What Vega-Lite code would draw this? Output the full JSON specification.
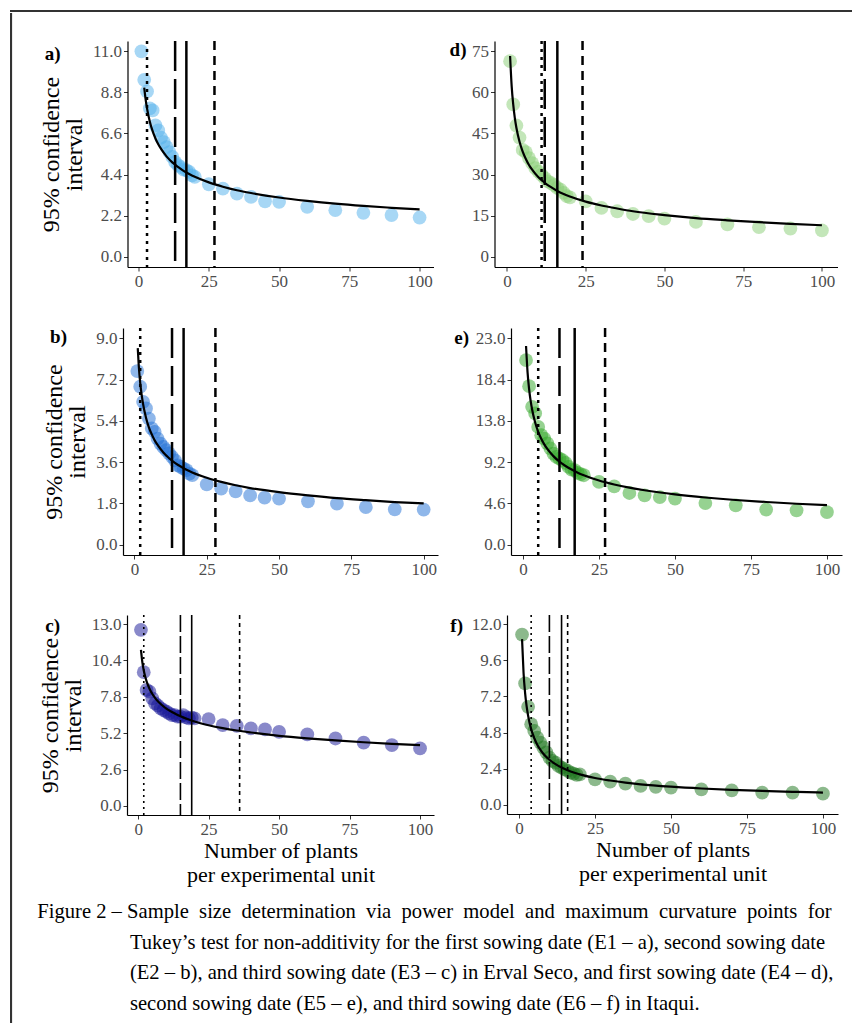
{
 "$schema": "https://vega.github.io/schema/vega-lite/v6.json",
 "padding": {"left": 10, "top": 10, "right": 0, "bottom": 0},
 "background": "white",
 "datasets": {
  "blank": [{}],
  "pa": [{"x":1,"y":11.0},{"x":2,"y":9.47},{"x":3,"y":8.85},{"x":4,"y":7.94},{"x":5,"y":7.83},{"x":6,"y":7.03},{"x":7,"y":6.76},{"x":8,"y":6.37},{"x":9,"y":6.14},{"x":10,"y":5.87},{"x":11,"y":5.6},{"x":12,"y":5.34},{"x":13,"y":5.07},{"x":14,"y":4.9},{"x":15,"y":4.8},{"x":16,"y":4.67},{"x":17,"y":4.63},{"x":18,"y":4.54},{"x":19,"y":4.36},{"x":20,"y":4.27},{"x":25,"y":3.88},{"x":30,"y":3.65},{"x":35,"y":3.38},{"x":40,"y":3.2},{"x":45,"y":2.97},{"x":50,"y":2.94},{"x":60,"y":2.67},{"x":70,"y":2.49},{"x":80,"y":2.35},{"x":90,"y":2.23},{"x":100,"y":2.1}],
  "ca": [{"x":2,"y":9.06},{"x":2.5,"y":8.43},{"x":3,"y":7.94},{"x":4,"y":7.23},{"x":5,"y":6.72},{"x":6,"y":6.33},{"x":7,"y":6.02},{"x":8,"y":5.77},{"x":10,"y":5.36},{"x":12,"y":5.05},{"x":14,"y":4.81},{"x":16,"y":4.6},{"x":18,"y":4.43},{"x":20,"y":4.28},{"x":25,"y":3.98},{"x":30,"y":3.75},{"x":35,"y":3.56},{"x":40,"y":3.41},{"x":50,"y":3.17},{"x":60,"y":2.99},{"x":70,"y":2.84},{"x":80,"y":2.72},{"x":90,"y":2.62},{"x":100,"y":2.53}],
  "va": [{"x":3,"kind":"dotted"},{"x":13,"kind":"longdash"},{"x":17,"kind":"solid"},{"x":27,"kind":"dashed"}],
  "pb": [{"x":1,"y":7.57},{"x":2,"y":6.89},{"x":3,"y":6.23},{"x":4,"y":5.94},{"x":5,"y":5.5},{"x":6,"y":5.07},{"x":7,"y":4.92},{"x":8,"y":4.63},{"x":9,"y":4.41},{"x":10,"y":4.26},{"x":11,"y":4.12},{"x":12,"y":3.98},{"x":13,"y":3.83},{"x":14,"y":3.68},{"x":15,"y":3.46},{"x":16,"y":3.39},{"x":17,"y":3.32},{"x":18,"y":3.25},{"x":19,"y":3.1},{"x":20,"y":3.03},{"x":25,"y":2.63},{"x":30,"y":2.45},{"x":35,"y":2.33},{"x":40,"y":2.15},{"x":45,"y":2.05},{"x":50,"y":2.01},{"x":60,"y":1.89},{"x":70,"y":1.79},{"x":80,"y":1.64},{"x":90,"y":1.54},{"x":100,"y":1.53}],
  "cb": [{"x":1.15,"y":8.57},{"x":1.5,"y":7.81},{"x":2,"y":7.06},{"x":2.5,"y":6.53},{"x":3,"y":6.13},{"x":4,"y":5.54},{"x":5,"y":5.12},{"x":6,"y":4.81},{"x":7,"y":4.55},{"x":8,"y":4.35},{"x":10,"y":4.02},{"x":12,"y":3.77},{"x":14,"y":3.57},{"x":16,"y":3.41},{"x":18,"y":3.27},{"x":20,"y":3.15},{"x":25,"y":2.92},{"x":30,"y":2.74},{"x":35,"y":2.59},{"x":40,"y":2.47},{"x":50,"y":2.29},{"x":60,"y":2.15},{"x":70,"y":2.03},{"x":80,"y":1.94},{"x":90,"y":1.86},{"x":100,"y":1.8}],
  "vb": [{"x":2,"kind":"dotted"},{"x":13,"kind":"longdash"},{"x":17,"kind":"solid"},{"x":28,"kind":"dashed"}],
  "pc": [{"x":1,"y":12.59},{"x":2,"y":9.56},{"x":3,"y":8.29},{"x":4,"y":8.17},{"x":5,"y":7.69},{"x":6,"y":7.33},{"x":7,"y":7.17},{"x":8,"y":6.97},{"x":9,"y":6.85},{"x":10,"y":6.74},{"x":11,"y":6.62},{"x":12,"y":6.49},{"x":13,"y":6.49},{"x":14,"y":6.38},{"x":15,"y":6.38},{"x":16,"y":6.49},{"x":17,"y":6.33},{"x":18,"y":6.26},{"x":19,"y":6.31},{"x":20,"y":6.26},{"x":25,"y":6.21},{"x":30,"y":5.78},{"x":35,"y":5.73},{"x":40,"y":5.54},{"x":45,"y":5.47},{"x":50,"y":5.3},{"x":60,"y":5.11},{"x":70,"y":4.82},{"x":80,"y":4.52},{"x":90,"y":4.34},{"x":100,"y":4.11}],
  "cc": [{"x":1,"y":11.15},{"x":1.5,"y":10.26},{"x":2,"y":9.68},{"x":2.5,"y":9.25},{"x":3,"y":8.91},{"x":4,"y":8.4},{"x":5,"y":8.02},{"x":6,"y":7.73},{"x":7,"y":7.49},{"x":8,"y":7.29},{"x":10,"y":6.96},{"x":12,"y":6.71},{"x":14,"y":6.5},{"x":16,"y":6.33},{"x":18,"y":6.18},{"x":20,"y":6.04},{"x":25,"y":5.77},{"x":30,"y":5.56},{"x":35,"y":5.39},{"x":40,"y":5.25},{"x":50,"y":5.01},{"x":60,"y":4.83},{"x":70,"y":4.68},{"x":80,"y":4.55},{"x":90,"y":4.44},{"x":100,"y":4.35}],
  "vc": [{"x":2,"kind":"dotted"},{"x":15,"kind":"longdash"},{"x":19,"kind":"solid"},{"x":36,"kind":"dashed"}],
  "pd": [{"x":1,"y":71.4},{"x":2,"y":55.6},{"x":3,"y":47.9},{"x":4,"y":43.5},{"x":5,"y":39.0},{"x":6,"y":38.2},{"x":7,"y":36.0},{"x":8,"y":34.2},{"x":9,"y":32.3},{"x":10,"y":31.1},{"x":11,"y":29.9},{"x":12,"y":28.7},{"x":13,"y":27.5},{"x":14,"y":26.9},{"x":15,"y":26.1},{"x":16,"y":25.1},{"x":17,"y":24.5},{"x":18,"y":23.3},{"x":19,"y":22.1},{"x":20,"y":21.7},{"x":25,"y":20.2},{"x":30,"y":17.8},{"x":35,"y":16.6},{"x":40,"y":15.6},{"x":45,"y":14.8},{"x":50,"y":13.9},{"x":60,"y":12.7},{"x":70,"y":11.8},{"x":80,"y":10.8},{"x":90,"y":10.3},{"x":100,"y":9.6}],
  "cd": [{"x":1,"y":73.3},{"x":1.5,"y":62.3},{"x":2,"y":55.5},{"x":2.5,"y":50.7},{"x":3,"y":47.1},{"x":4,"y":42.0},{"x":5,"y":38.4},{"x":6,"y":35.7},{"x":7,"y":33.5},{"x":8,"y":31.8},{"x":10,"y":29.0},{"x":12,"y":27.0},{"x":14,"y":25.4},{"x":16,"y":24.0},{"x":18,"y":22.9},{"x":20,"y":22.0},{"x":25,"y":20.1},{"x":30,"y":18.7},{"x":35,"y":17.6},{"x":40,"y":16.6},{"x":50,"y":15.2},{"x":60,"y":14.1},{"x":70,"y":13.3},{"x":80,"y":12.6},{"x":90,"y":12.0},{"x":100,"y":11.5}],
  "vd": [{"x":11,"kind":"dotted"},{"x":12,"kind":"longdash"},{"x":16,"kind":"solid"},{"x":24,"kind":"dashed"}],
  "pe": [{"x":1,"y":20.58},{"x":2,"y":17.67},{"x":3,"y":15.36},{"x":4,"y":14.63},{"x":5,"y":13.13},{"x":6,"y":12.2},{"x":7,"y":11.83},{"x":8,"y":11.28},{"x":9,"y":10.72},{"x":10,"y":10.16},{"x":11,"y":9.78},{"x":12,"y":9.6},{"x":13,"y":9.41},{"x":14,"y":9.11},{"x":15,"y":8.66},{"x":16,"y":8.37},{"x":17,"y":8.3},{"x":18,"y":8.0},{"x":19,"y":7.85},{"x":20,"y":7.74},{"x":25,"y":6.99},{"x":30,"y":6.51},{"x":35,"y":5.76},{"x":40,"y":5.5},{"x":45,"y":5.31},{"x":50,"y":5.14},{"x":60,"y":4.64},{"x":70,"y":4.39},{"x":80,"y":3.91},{"x":90,"y":3.83},{"x":100,"y":3.64}],
  "ce": [{"x":1,"y":22.14},{"x":1.5,"y":19.2},{"x":2,"y":17.36},{"x":2.5,"y":16.05},{"x":3,"y":15.06},{"x":4,"y":13.61},{"x":5,"y":12.58},{"x":6,"y":11.81},{"x":7,"y":11.18},{"x":8,"y":10.67},{"x":10,"y":9.87},{"x":12,"y":9.25},{"x":14,"y":8.77},{"x":16,"y":8.37},{"x":18,"y":8.03},{"x":20,"y":7.74},{"x":25,"y":7.15},{"x":30,"y":6.71},{"x":35,"y":6.36},{"x":40,"y":6.07},{"x":50,"y":5.61},{"x":60,"y":5.26},{"x":70,"y":4.98},{"x":80,"y":4.76},{"x":90,"y":4.56},{"x":100,"y":4.4}],
  "ve": [{"x":5,"kind":"dotted"},{"x":12,"kind":"longdash"},{"x":17,"kind":"solid"},{"x":27,"kind":"dashed"}],
  "pf": [{"x":1,"y":11.3},{"x":2,"y":8.06},{"x":3,"y":6.51},{"x":4,"y":5.36},{"x":5,"y":4.92},{"x":6,"y":4.47},{"x":7,"y":4.14},{"x":8,"y":3.81},{"x":9,"y":3.48},{"x":10,"y":3.14},{"x":11,"y":2.92},{"x":12,"y":2.81},{"x":13,"y":2.59},{"x":14,"y":2.48},{"x":15,"y":2.37},{"x":16,"y":2.26},{"x":17,"y":2.15},{"x":18,"y":2.08},{"x":19,"y":1.99},{"x":20,"y":2.03},{"x":25,"y":1.7},{"x":30,"y":1.55},{"x":35,"y":1.42},{"x":40,"y":1.26},{"x":45,"y":1.2},{"x":50,"y":1.15},{"x":60,"y":1.04},{"x":70,"y":0.97},{"x":80,"y":0.82},{"x":90,"y":0.82},{"x":100,"y":0.75}],
  "cf": [{"x":1,"y":11.0},{"x":1.5,"y":8.75},{"x":2,"y":7.44},{"x":2.5,"y":6.56},{"x":3,"y":5.92},{"x":4,"y":5.03},{"x":5,"y":4.44},{"x":6,"y":4.0},{"x":7,"y":3.67},{"x":8,"y":3.4},{"x":10,"y":3.0},{"x":12,"y":2.71},{"x":14,"y":2.48},{"x":16,"y":2.3},{"x":18,"y":2.15},{"x":20,"y":2.03},{"x":25,"y":1.79},{"x":30,"y":1.62},{"x":35,"y":1.48},{"x":40,"y":1.37},{"x":50,"y":1.21},{"x":60,"y":1.09},{"x":70,"y":1.0},{"x":80,"y":0.93},{"x":90,"y":0.87},{"x":100,"y":0.82}],
  "vf": [{"x":4,"kind":"dotted"},{"x":10,"kind":"longdash"},{"x":14,"kind":"solid"},{"x":16,"kind":"dashed"}]
 },
 "config": {
  "view": {"stroke": null},
  "font": "Liberation Serif",
  "style": {"guide-label": {"font": "Liberation Serif"}, "guide-title": {"font": "Liberation Serif"}},
  "axis": {"grid": false, "labelOverlap": false, "labelFont": "Liberation Serif", "labelFontSize": 17, "labelColor": "#4d4d4d", "tickColor": "#333333", "tickSize": 4, "labelPadding": 2, "domainColor": "#000000", "domainWidth": 1.2, "titleFont": "Liberation Serif", "titleFontSize": 22, "titleFontWeight": "normal", "titleColor": "#000000", "titleLineHeight": 24},
  "axisX": {"titlePadding": 3, "labelFont": "Liberation Serif", "titleFont": "Liberation Serif"},
  "axisY": {"titlePadding": 6, "titleFontSize": 24, "titleLineHeight": 23, "labelFont": "Liberation Serif", "titleFont": "Liberation Serif"},
  "title": {"font": "Liberation Serif", "fontSize": 19, "fontWeight": "bold", "color": "#000000"}
 },
 "spacing": 0,
 "vconcat": [
  {"width": 840, "height": 0.1, "view": {"stroke": "#333333", "strokeWidth": 2}, "data": {"name": "blank"}, "mark": {"type": "point", "size": 0, "opacity": 0}, "encoding": {}},
  {"spacing": 24, "hconcat": [
   {"width": 0.1, "height": 1008, "view": {"stroke": "#333333", "strokeWidth": 2}, "data": {"name": "blank"}, "mark": {"type": "point", "size": 0, "opacity": 0}, "encoding": {}},
   {"spacing": 24, "vconcat": [
    {"width": 0.1, "height": 0.1, "data": {"name": "blank"}, "mark": {"type": "point", "size": 0, "opacity": 0}, "encoding": {}},
    {"spacing": 37, "center": true,
     "title": {"text": ["Figure 2 – Sample \u00a0size \u00a0determination \u00a0via \u00a0power \u00a0model \u00a0and \u00a0maximum \u00a0curvature \u00a0points \u00a0for", "\u200d\u00a0\u00a0\u00a0\u00a0\u00a0\u00a0\u00a0\u00a0\u00a0\u00a0\u00a0\u00a0\u00a0\u00a0\u00a0\u00a0\u00a0\u00a0Tukey’s test for non-additivity for the first sowing date (E1 – a), second sowing date", "\u200d\u00a0\u00a0\u00a0\u00a0\u00a0\u00a0\u00a0\u00a0\u00a0\u00a0\u00a0\u00a0\u00a0\u00a0\u00a0\u00a0\u00a0\u00a0(E2 – b), and third sowing date (E3 – c) in Erval Seco, and first sowing date (E4 – d),", "\u200d\u00a0\u00a0\u00a0\u00a0\u00a0\u00a0\u00a0\u00a0\u00a0\u00a0\u00a0\u00a0\u00a0\u00a0\u00a0\u00a0\u00a0\u00a0second sowing date (E5 – e), and third sowing date (E6 – f) in Itaqui."], "orient": "bottom", "anchor": "start", "frame": "bounds", "align": "left", "baseline": "top", "fontSize": 20.6, "fontWeight": "normal", "lineHeight": 30.5, "offset": 17, "dx": -1},
     "vconcat": [
      {"spacing": 16, "hconcat": [
       {"width": 306, "height": 226,
        "title": {"text": "a)", "orient": "top", "anchor": "start", "frame": "group", "align": "right", "baseline": "middle", "dx": -67, "dy": 33, "offset": 0},
        "layer": [
         {"data": {"name": "pa"}, "mark": {"type": "circle", "size": 190, "opacity": 0.5, "color": "#4fb0ec"},
          "encoding": {"x": {"field": "x", "type": "quantitative", "scale": {"domain": [-3.95, 104.95], "nice": false, "zero": false}, "axis": {"values": [0, 25, 50, 75, 100], "tickCount": 20, "labelFont": "Liberation Serif", "title": null, "labelOverlap": false}},
                       "y": {"field": "y", "type": "quantitative", "scale": {"domain": [-0.55, 11.55], "nice": false, "zero": false}, "axis": {"values": [0, 2.2, 4.4, 6.6, 8.8, 11], "tickCount": 20, "labelFont": "Liberation Serif", "titleFont": "Liberation Serif", "format": ".1f", "labelOverlap": false, "title": ["95% confidence", "interval"]}}}},
         {"data": {"name": "va"}, "transform": [{"filter": "datum.kind == 'dotted'"}], "mark": {"type": "rule", "color": "#000000", "strokeWidth": 2.5, "strokeDash": [3, 5]}, "encoding": {"x": {"field": "x", "type": "quantitative"}}},
         {"data": {"name": "va"}, "transform": [{"filter": "datum.kind == 'longdash'"}], "mark": {"type": "rule", "color": "#000000", "strokeWidth": 2.5, "strokeDash": [30, 8]}, "encoding": {"x": {"field": "x", "type": "quantitative"}}},
         {"data": {"name": "va"}, "transform": [{"filter": "datum.kind == 'solid'"}], "mark": {"type": "rule", "color": "#000000", "strokeWidth": 2.5}, "encoding": {"x": {"field": "x", "type": "quantitative"}}},
         {"data": {"name": "va"}, "transform": [{"filter": "datum.kind == 'dashed'"}], "mark": {"type": "rule", "color": "#000000", "strokeWidth": 2.5, "strokeDash": [9, 6]}, "encoding": {"x": {"field": "x", "type": "quantitative"}}},
         {"data": {"name": "ca"}, "mark": {"type": "line", "color": "#000000", "strokeWidth": 2.2, "interpolate": "monotone"}, "encoding": {"x": {"field": "x", "type": "quantitative"}, "y": {"field": "y", "type": "quantitative"}}}
        ]},
       {"width": 343, "height": 226,
        "title": {"text": "d)", "orient": "top", "anchor": "start", "frame": "group", "align": "right", "baseline": "middle", "dx": -28, "dy": 29.5, "offset": 0},
        "layer": [
         {"data": {"name": "pd"}, "mark": {"type": "circle", "size": 190, "opacity": 0.5, "color": "#87cd73"},
          "encoding": {"x": {"field": "x", "type": "quantitative", "scale": {"domain": [-3.95, 104.95], "nice": false, "zero": false}, "axis": {"values": [0, 25, 50, 75, 100], "tickCount": 20, "labelFont": "Liberation Serif", "title": null, "labelOverlap": false}},
                       "y": {"field": "y", "type": "quantitative", "scale": {"domain": [-3.75, 78.75], "nice": false, "zero": false}, "axis": {"values": [0, 15, 30, 45, 60, 75], "tickCount": 20, "labelFont": "Liberation Serif", "format": "d", "labelOverlap": false, "title": null}}}},
         {"data": {"name": "vd"}, "transform": [{"filter": "datum.kind == 'dotted'"}], "mark": {"type": "rule", "color": "#000000", "strokeWidth": 2.5, "strokeDash": [3, 5]}, "encoding": {"x": {"field": "x", "type": "quantitative"}}},
         {"data": {"name": "vd"}, "transform": [{"filter": "datum.kind == 'longdash'"}], "mark": {"type": "rule", "color": "#000000", "strokeWidth": 2.5, "strokeDash": [30, 8]}, "encoding": {"x": {"field": "x", "type": "quantitative"}}},
         {"data": {"name": "vd"}, "transform": [{"filter": "datum.kind == 'solid'"}], "mark": {"type": "rule", "color": "#000000", "strokeWidth": 2.5}, "encoding": {"x": {"field": "x", "type": "quantitative"}}},
         {"data": {"name": "vd"}, "transform": [{"filter": "datum.kind == 'dashed'"}], "mark": {"type": "rule", "color": "#000000", "strokeWidth": 2.5, "strokeDash": [9, 6]}, "encoding": {"x": {"field": "x", "type": "quantitative"}}},
         {"data": {"name": "cd"}, "mark": {"type": "line", "color": "#000000", "strokeWidth": 2.2, "interpolate": "monotone"}, "encoding": {"x": {"field": "x", "type": "quantitative"}, "y": {"field": "y", "type": "quantitative"}}}
        ]}
      ]},
      {"spacing": 16, "hconcat": [
       {"width": 315, "height": 227,
        "title": {"text": "b)", "orient": "top", "anchor": "start", "frame": "group", "align": "right", "baseline": "middle", "dx": -56, "dy": 29.5, "offset": 0},
        "layer": [
         {"data": {"name": "pb"}, "mark": {"type": "circle", "size": 190, "opacity": 0.5, "color": "#1f6fd6"},
          "encoding": {"x": {"field": "x", "type": "quantitative", "scale": {"domain": [-3.95, 104.95], "nice": false, "zero": false}, "axis": {"values": [0, 25, 50, 75, 100], "tickCount": 20, "labelFont": "Liberation Serif", "title": null, "labelOverlap": false}},
                       "y": {"field": "y", "type": "quantitative", "scale": {"domain": [-0.45, 9.45], "nice": false, "zero": false}, "axis": {"values": [0, 1.8, 3.6, 5.4, 7.2, 9], "tickCount": 20, "labelFont": "Liberation Serif", "titleFont": "Liberation Serif", "format": ".1f", "labelOverlap": false, "title": ["95% confidence", "interval"]}}}},
         {"data": {"name": "vb"}, "transform": [{"filter": "datum.kind == 'dotted'"}], "mark": {"type": "rule", "color": "#000000", "strokeWidth": 2.5, "strokeDash": [3, 5]}, "encoding": {"x": {"field": "x", "type": "quantitative"}}},
         {"data": {"name": "vb"}, "transform": [{"filter": "datum.kind == 'longdash'"}], "mark": {"type": "rule", "color": "#000000", "strokeWidth": 2.5, "strokeDash": [30, 8]}, "encoding": {"x": {"field": "x", "type": "quantitative"}}},
         {"data": {"name": "vb"}, "transform": [{"filter": "datum.kind == 'solid'"}], "mark": {"type": "rule", "color": "#000000", "strokeWidth": 2.5}, "encoding": {"x": {"field": "x", "type": "quantitative"}}},
         {"data": {"name": "vb"}, "transform": [{"filter": "datum.kind == 'dashed'"}], "mark": {"type": "rule", "color": "#000000", "strokeWidth": 2.5, "strokeDash": [9, 6]}, "encoding": {"x": {"field": "x", "type": "quantitative"}}},
         {"data": {"name": "cb"}, "mark": {"type": "line", "color": "#000000", "strokeWidth": 2.2, "interpolate": "monotone"}, "encoding": {"x": {"field": "x", "type": "quantitative"}, "y": {"field": "y", "type": "quantitative"}}}
        ]},
       {"width": 331, "height": 227,
        "title": {"text": "e)", "orient": "top", "anchor": "start", "frame": "group", "align": "right", "baseline": "middle", "dx": -42, "dy": 30.5, "offset": 0},
        "layer": [
         {"data": {"name": "pe"}, "mark": {"type": "circle", "size": 190, "opacity": 0.5, "color": "#2da523"},
          "encoding": {"x": {"field": "x", "type": "quantitative", "scale": {"domain": [-3.95, 104.95], "nice": false, "zero": false}, "axis": {"values": [0, 25, 50, 75, 100], "tickCount": 20, "labelFont": "Liberation Serif", "title": null, "labelOverlap": false}},
                       "y": {"field": "y", "type": "quantitative", "scale": {"domain": [-1.15, 24.15], "nice": false, "zero": false}, "axis": {"values": [0, 4.6, 9.2, 13.8, 18.4, 23], "tickCount": 20, "labelFont": "Liberation Serif", "format": ".1f", "labelOverlap": false, "title": null}}}},
         {"data": {"name": "ve"}, "transform": [{"filter": "datum.kind == 'dotted'"}], "mark": {"type": "rule", "color": "#000000", "strokeWidth": 2.5, "strokeDash": [3, 5]}, "encoding": {"x": {"field": "x", "type": "quantitative"}}},
         {"data": {"name": "ve"}, "transform": [{"filter": "datum.kind == 'longdash'"}], "mark": {"type": "rule", "color": "#000000", "strokeWidth": 2.5, "strokeDash": [30, 8]}, "encoding": {"x": {"field": "x", "type": "quantitative"}}},
         {"data": {"name": "ve"}, "transform": [{"filter": "datum.kind == 'solid'"}], "mark": {"type": "rule", "color": "#000000", "strokeWidth": 2.5}, "encoding": {"x": {"field": "x", "type": "quantitative"}}},
         {"data": {"name": "ve"}, "transform": [{"filter": "datum.kind == 'dashed'"}], "mark": {"type": "rule", "color": "#000000", "strokeWidth": 2.5, "strokeDash": [9, 6]}, "encoding": {"x": {"field": "x", "type": "quantitative"}}},
         {"data": {"name": "ce"}, "mark": {"type": "line", "color": "#000000", "strokeWidth": 2.2, "interpolate": "monotone"}, "encoding": {"x": {"field": "x", "type": "quantitative"}, "y": {"field": "y", "type": "quantitative"}}}
        ]}
      ]},
      {"spacing": 16, "hconcat": [
       {"width": 307, "height": 200,
        "title": {"text": "c)", "orient": "top", "anchor": "start", "frame": "group", "align": "right", "baseline": "middle", "dx": -67, "dy": 31, "offset": 0},
        "layer": [
         {"data": {"name": "pc"}, "mark": {"type": "circle", "size": 190, "opacity": 0.5, "color": "#141496"},
          "encoding": {"x": {"field": "x", "type": "quantitative", "scale": {"domain": [-3.95, 104.95], "nice": false, "zero": false}, "axis": {"values": [0, 25, 50, 75, 100], "tickCount": 20, "labelFont": "Liberation Serif", "titleFont": "Liberation Serif", "labelOverlap": false, "title": ["Number of plants", "per experimental unit"]}},
                       "y": {"field": "y", "type": "quantitative", "scale": {"domain": [-0.65, 13.65], "nice": false, "zero": false}, "axis": {"values": [0, 2.6, 5.2, 7.8, 10.4, 13], "tickCount": 20, "labelFont": "Liberation Serif", "titleFont": "Liberation Serif", "format": ".1f", "labelOverlap": false, "title": ["95% confidence", "interval"]}}}},
         {"data": {"name": "vc"}, "transform": [{"filter": "datum.kind == 'dotted'"}], "mark": {"type": "rule", "color": "#000000", "strokeWidth": 1.6, "strokeDash": [2, 4]}, "encoding": {"x": {"field": "x", "type": "quantitative"}}},
         {"data": {"name": "vc"}, "transform": [{"filter": "datum.kind == 'longdash'"}], "mark": {"type": "rule", "color": "#000000", "strokeWidth": 1.6, "strokeDash": [17, 4]}, "encoding": {"x": {"field": "x", "type": "quantitative"}}},
         {"data": {"name": "vc"}, "transform": [{"filter": "datum.kind == 'solid'"}], "mark": {"type": "rule", "color": "#000000", "strokeWidth": 1.6}, "encoding": {"x": {"field": "x", "type": "quantitative"}}},
         {"data": {"name": "vc"}, "transform": [{"filter": "datum.kind == 'dashed'"}], "mark": {"type": "rule", "color": "#000000", "strokeWidth": 1.6, "strokeDash": [4, 4]}, "encoding": {"x": {"field": "x", "type": "quantitative"}}},
         {"data": {"name": "cc"}, "mark": {"type": "line", "color": "#000000", "strokeWidth": 2.2, "interpolate": "monotone"}, "encoding": {"x": {"field": "x", "type": "quantitative"}, "y": {"field": "y", "type": "quantitative"}}}
        ]},
       {"width": 331, "height": 199,
        "title": {"text": "f)", "orient": "top", "anchor": "start", "frame": "group", "align": "right", "baseline": "middle", "dx": -44, "dy": 31, "offset": 0},
        "layer": [
         {"data": {"name": "pf"}, "mark": {"type": "circle", "size": 190, "opacity": 0.5, "color": "#197319"},
          "encoding": {"x": {"field": "x", "type": "quantitative", "scale": {"domain": [-3.95, 104.95], "nice": false, "zero": false}, "axis": {"values": [0, 25, 50, 75, 100], "tickCount": 20, "labelFont": "Liberation Serif", "titleFont": "Liberation Serif", "labelOverlap": false, "title": ["Number of plants", "per experimental unit"]}},
                       "y": {"field": "y", "type": "quantitative", "scale": {"domain": [-0.6, 12.6], "nice": false, "zero": false}, "axis": {"values": [0, 2.4, 4.8, 7.2, 9.6, 12], "tickCount": 20, "labelFont": "Liberation Serif", "format": ".1f", "labelOverlap": false, "title": null}}}},
         {"data": {"name": "vf"}, "transform": [{"filter": "datum.kind == 'dotted'"}], "mark": {"type": "rule", "color": "#000000", "strokeWidth": 1.6, "strokeDash": [2, 4]}, "encoding": {"x": {"field": "x", "type": "quantitative"}}},
         {"data": {"name": "vf"}, "transform": [{"filter": "datum.kind == 'longdash'"}], "mark": {"type": "rule", "color": "#000000", "strokeWidth": 1.6, "strokeDash": [17, 4]}, "encoding": {"x": {"field": "x", "type": "quantitative"}}},
         {"data": {"name": "vf"}, "transform": [{"filter": "datum.kind == 'solid'"}], "mark": {"type": "rule", "color": "#000000", "strokeWidth": 1.6}, "encoding": {"x": {"field": "x", "type": "quantitative"}}},
         {"data": {"name": "vf"}, "transform": [{"filter": "datum.kind == 'dashed'"}], "mark": {"type": "rule", "color": "#000000", "strokeWidth": 1.6, "strokeDash": [4, 4]}, "encoding": {"x": {"field": "x", "type": "quantitative"}}},
         {"data": {"name": "cf"}, "mark": {"type": "line", "color": "#000000", "strokeWidth": 2.2, "interpolate": "monotone"}, "encoding": {"x": {"field": "x", "type": "quantitative"}, "y": {"field": "y", "type": "quantitative"}}}
        ]}
      ]}
     ]}
   ]}
  ]}
 ]
}
